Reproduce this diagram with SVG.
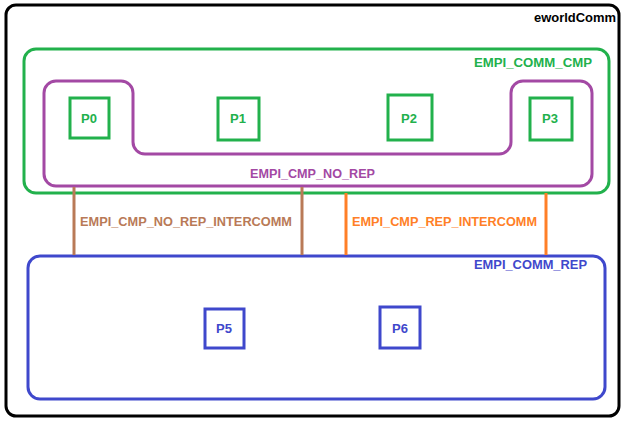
<svg xmlns="http://www.w3.org/2000/svg" width="621" height="421" viewBox="0 0 621 421">
  <style>
    text { font-family: "Liberation Sans", Arial, sans-serif; font-weight: bold; font-size: 13px; }
    .box { fill: none; stroke-width: 3; }
    .g { stroke: #22B14C; }
    .gt { fill: #22B14C; }
    .p { stroke: #A349A4; }
    .pt { fill: #A349A4; }
    .b { stroke: #3F48CC; }
    .bt { fill: #3F48CC; }
    .br { stroke: #B97A57; }
    .brt { fill: #B97A57; }
    .o { stroke: #FF7F27; }
    .ot { fill: #FF7F27; }
    .mid { text-anchor: middle; }
  </style>
  <rect width="621" height="421" fill="#fff"/>

  <g id="eworldComm">
    <rect class="box" x="6" y="5" width="613" height="411" rx="10" stroke="#000"/>
    <text x="534" y="21.5" textLength="82" lengthAdjust="spacingAndGlyphs" fill="#000">eworldComm</text>
  </g>

  <g id="EMPI_COMM_CMP">
    <rect class="box g" x="24" y="49" width="585" height="144" rx="12"/>
    <text class="gt" x="474" y="67" textLength="118" lengthAdjust="spacingAndGlyphs">EMPI_COMM_CMP</text>
  </g>

  <g id="EMPI_CMP_NO_REP">
    <path class="box p" d="M56,81 H121 A12,12 0 0 1 133,93 V142 A12,12 0 0 0 145,154 H499 A12,12 0 0 0 511,142 V93 A12,12 0 0 1 523,81 H580 A12,12 0 0 1 592,93 V174 A12,12 0 0 1 580,186 H56 A12,12 0 0 1 44,174 V93 A12,12 0 0 1 56,81 Z"/>
    <text class="pt" x="250" y="177.5" textLength="125" lengthAdjust="spacingAndGlyphs">EMPI_CMP_NO_REP</text>
  </g>

  <g id="P0">
    <rect class="box g" x="70" y="98" width="39" height="40"/>
    <text class="gt mid" x="89" y="122.5">P0</text>
  </g>
  <g id="P1">
    <rect class="box g" x="218" y="98" width="41" height="42"/>
    <text class="gt mid" x="238" y="122.5">P1</text>
  </g>
  <g id="P2">
    <rect class="box g" x="388" y="95" width="44" height="45"/>
    <text class="gt mid" x="409" y="122.5">P2</text>
  </g>
  <g id="P3">
    <rect class="box g" x="530" y="98" width="42" height="42"/>
    <text class="gt mid" x="550" y="122.5">P3</text>
  </g>

  <g id="EMPI_COMM_REP">
    <rect class="box b" x="28" y="256" width="577" height="143" rx="12"/>
    <text class="bt" x="474" y="268.5" textLength="113" lengthAdjust="spacingAndGlyphs">EMPI_COMM_REP</text>
  </g>
  <g id="P5">
    <rect class="box b" x="205" y="309" width="39" height="39"/>
    <text class="bt mid" x="224" y="332.5">P5</text>
  </g>
  <g id="P6">
    <rect class="box b" x="380" y="307" width="40" height="41"/>
    <text class="bt mid" x="400" y="332.5">P6</text>
  </g>

  <g id="connectors">
    <line class="box br" x1="74" y1="187" x2="74" y2="255"/>
    <line class="box br" x1="302" y1="187" x2="302" y2="255"/>
    <text class="brt" x="80" y="225.5" textLength="212" lengthAdjust="spacingAndGlyphs">EMPI_CMP_NO_REP_INTERCOMM</text>
    <line class="box o" x1="346" y1="193" x2="346" y2="255"/>
    <line class="box o" x1="546" y1="193" x2="546" y2="255"/>
    <text class="ot" x="352" y="225.5" textLength="185" lengthAdjust="spacingAndGlyphs">EMPI_CMP_REP_INTERCOMM</text>
  </g>
</svg>
